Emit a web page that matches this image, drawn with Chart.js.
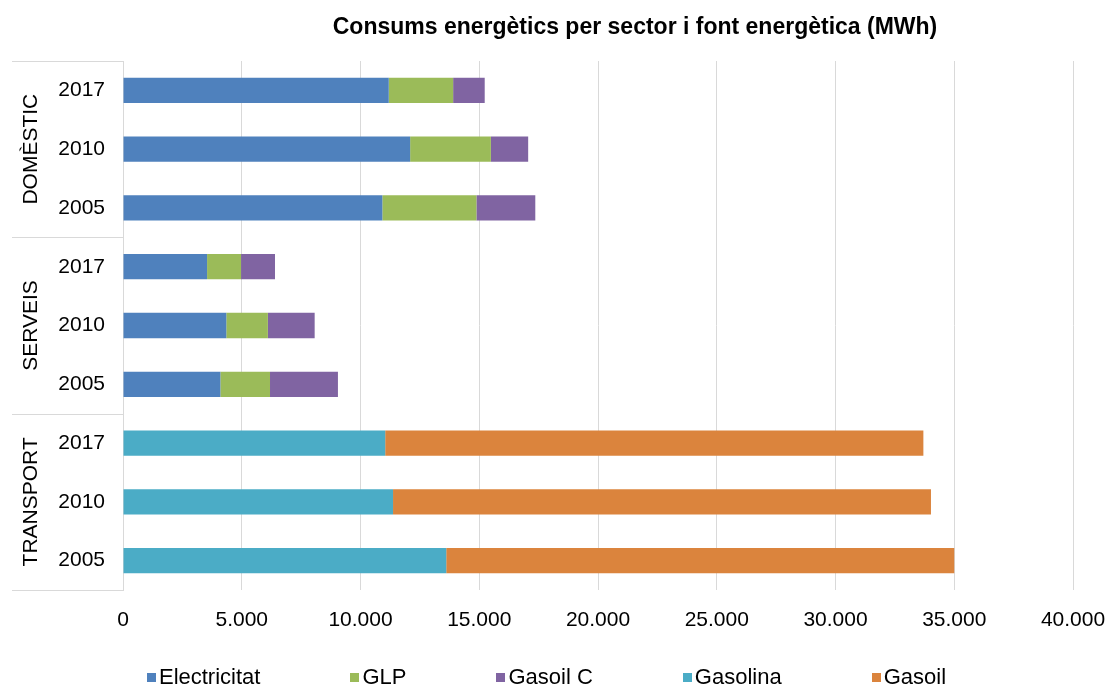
<!DOCTYPE html>
<html lang="ca">
<head>
<meta charset="utf-8">
<title>Consums energètics per sector i font energètica</title>
<script src="https://cdn.jsdelivr.net/npm/chart.js@4/dist/chart.umd.min.js"></script>
<style>
  html, body { margin: 0; padding: 0; background: #fff; }
  #wrap { position: relative; width: 1109px; height: 688px; font-family: "Liberation Sans", Arial, sans-serif; }
  #chart { position: absolute; left: 0; top: 0; }
  #title { position: absolute; top: 13px; left: 635px; transform: translateX(-50%); white-space: nowrap;
           font-weight: bold; font-size: 23px; color: #000; }
  #legend { position: absolute; top: 665px; left: 0; width: 1093px; display: flex; justify-content: center;
            gap: 90px; font-size: 22px; color: #000; line-height: 24px; }
  #legend span.item { display: flex; align-items: center; }
  #legend i { display: inline-block; width: 9px; height: 9px; margin-right: 3px; }
</style>
</head>
<body>
<div id="wrap">
  <canvas id="chart" width="1109" height="688"></canvas>
  <div id="title">Consums energètics per sector i font energètica (MWh)</div>
  <div id="legend"></div>
</div>
<script>
// Sectors and years, top to bottom
const sectors = ["DOMÈSTIC", "SERVEIS", "TRANSPORT"];
const years = ["2017", "2010", "2005"];

// MWh per energy source, one value per sector/year row
const electricitat = [11190, 12090, 10920, 3540, 4350, 4100, 0, 0, 0];
const glp = [2710, 3400, 3960, 1430, 1750, 2090, 0, 0, 0];
const gasoilC = [1330, 1570, 2480, 1430, 1970, 2860, 0, 0, 0];
const gasolina = [0, 0, 0, 0, 0, 0, 11040, 11370, 13610];
const gasoil = [0, 0, 0, 0, 0, 0, 22660, 22650, 21390];

const seriesNames = ["Electricitat", "GLP", "Gasoil C", "Gasolina", "Gasoil"];
const seriesColors = ["#4f81bd", "#9bbb59", "#8064a2", "#4bacc6", "#db843d"];
const seriesData = [electricitat, glp, gasoilC, gasolina, gasoil];

const xTicks = [0, 5000, 10000, 15000, 20000, 25000, 30000, 35000, 40000];

const labels = sectors.flatMap(() => years);
const FONT = '"Liberation Sans", Arial, sans-serif';
const GRID = "#d9d9d9";

function thousands(v) {
  return String(v).replace(/\B(?=(\d{3})+(?!\d))/g, ".");
}

// sector names on the left with separator lines between groups
const sectorGroups = {
  id: "sectorGroups",
  afterDraw(chart) {
    const { ctx } = chart;
    const y = chart.scales.y;
    const band = (y.bottom - y.top) / labels.length;
    ctx.save();
    ctx.strokeStyle = GRID;
    ctx.lineWidth = 1;
    for (let i = 0; i <= sectors.length; i++) {
      const yy = Math.round(y.top + i * years.length * band) + 0.5;
      ctx.beginPath();
      ctx.moveTo(12, yy);
      ctx.lineTo(y.right, yy);
      ctx.stroke();
    }
    ctx.fillStyle = "#000";
    ctx.font = "21px " + FONT;
    ctx.textAlign = "center";
    ctx.textBaseline = "middle";
    sectors.forEach((s, i) => {
      const mid = y.top + (i + 0.5) * years.length * band;
      ctx.save();
      ctx.translate(31, mid);
      ctx.rotate(-Math.PI / 2);
      ctx.fillText(s, 0, 0);
      ctx.restore();
    });
    ctx.restore();
  }
};

new Chart(document.getElementById("chart"), {
  type: "bar",
  data: {
    labels: labels,
    datasets: seriesNames.map((name, i) => ({
      label: name,
      data: seriesData[i],
      backgroundColor: seriesColors[i],
      borderWidth: 0,
      barPercentage: 0.43,
      categoryPercentage: 1
    }))
  },
  options: {
    indexAxis: "y",
    responsive: false,
    animation: false,
    layout: { padding: { top: 61, right: 36, bottom: 0, left: 0 } },
    plugins: {
      legend: { display: false },
      title: { display: false },
      tooltip: { enabled: false }
    },
    scales: {
      x: {
        stacked: true,
        min: 0,
        max: 40000,
        afterBuildTicks: (scale) => { scale.ticks = xTicks.map(v => ({ value: v })); },
        afterFit: (scale) => {
          scale.height = 98;
          scale.paddingLeft = 0;
          scale.paddingRight = 0;
        },
        grid: { color: GRID, lineWidth: 1, drawTicks: false },
        border: { display: false },
        ticks: {
          padding: 18,
          color: "#000",
          font: { family: FONT, size: 21 },
          callback: (v) => thousands(v)
        }
      },
      y: {
        stacked: true,
        afterFit: (scale) => { scale.width = 123; },
        grid: { display: false, drawTicks: false },
        border: { display: true, color: GRID, width: 1 },
        ticks: {
          padding: 18,
          color: "#000",
          font: { family: FONT, size: 21 }
        }
      }
    }
  },
  plugins: [sectorGroups]
});

// legend row under the chart
const legend = document.getElementById("legend");
seriesNames.forEach((name, i) => {
  const item = document.createElement("span");
  item.className = "item";
  const box = document.createElement("i");
  box.style.background = seriesColors[i];
  item.appendChild(box);
  item.appendChild(document.createTextNode(name));
  legend.appendChild(item);
});
</script>
</body>
</html>
